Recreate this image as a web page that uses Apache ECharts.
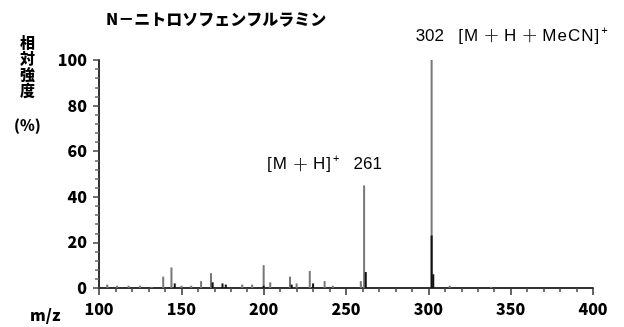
<!DOCTYPE html>
<html>
<head>
<meta charset="utf-8">
<script src="https://cdn.jsdelivr.net/npm/echarts@6/dist/echarts.min.js"></script>
<style>
  html, body { margin: 0; padding: 0; background: #fff; }
  #chart { width: 624px; height: 327px; }
</style>
</head>
<body>
<div id="chart"></div>
<script>
// Spectrum title and axis labels
const titleText = 'N－ニトロソフェンフルラミン';
const yAxisName = ['相', '対', '強', '度'];
const yUnit = '(%)';
const xAxisName = 'm/z';

// Axis ranges and ticks
const xTicks = [100, 150, 200, 250, 300, 350, 400];
const yTicks = [0, 20, 40, 60, 80, 100];

// Grey peak sticks (m/z, relative intensity %)
const greyMz = [105, 111, 118, 125, 132, 139, 144, 150, 156, 162, 168, 187, 193, 200, 204, 216, 220, 228, 237, 242, 259, 261, 302, 313, 338];
const greyInt = [1.5, 1, 1, 1, 0.5, 5, 9, 1, 1, 3, 6.5, 1.5, 1.5, 10, 2.5, 5, 2, 7.5, 3, 1, 3, 45, 100, 1, 0.5];

// Dark peak sticks (m/z, relative intensity %)
const darkMz = [146, 169, 175, 177, 200, 217, 230, 262, 302, 303];
const darkInt = [2, 2.5, 2, 1.5, 1, 1.5, 2, 7, 23, 6];

// Ion annotations
const ionBase = { mz: 302, intensity: 100, formula: '[M＋H＋MeCN]' };
const ionMH = { mz: 261, intensity: 45, formula: '[M＋H]' };

const chart = echarts.init(document.getElementById('chart'), null, { renderer: 'canvas' });

function stickItem(color, width) {
  return function (params, api) {
    const top = api.coord([api.value(0), api.value(1)]);
    const base = api.coord([api.value(0), 0]);
    return {
      type: 'line',
      shape: { x1: top[0], y1: top[1], x2: base[0], y2: base[1] },
      style: { stroke: color, lineWidth: width }
    };
  };
}

const boldFont = '"Noto Sans CJK JP", "DejaVu Sans", sans-serif';
const plainFont = '"Liberation Sans", Arial, sans-serif';

// rich text: Latin letters slightly spaced, full-width plus from the CJK face
const richStyles = {
  n: { font: '17px ' + plainFont, fill: '#000' },
  c: { font: '17px ' + plainFont, fill: '#000', padding: [0, 1, 0, 0] },
  p: { font: '300 17px "Noto Sans CJK JP"', fill: '#000', padding: [0, 4, 0, 4] },
  s: { font: '11px ' + plainFont, fill: '#000', verticalAlign: 'top', padding: [0, 0, 11, 1] }
};
function ionRich(formula) {
  return Array.from(formula)
    .map(ch => (ch === '＋' ? '{p|＋}' : '{c|' + ch + '}'))
    .join('') + '{s|+}';
}

const graphics = [
  {
    type: 'text', left: 106, top: 11,
    style: { text: titleText, font: '900 16px ' + boldFont, fill: '#000' }
  },
  {
    type: 'text', left: 20, top: 34,
    style: { text: yAxisName.join('\n'), font: '900 15px ' + boldFont, fill: '#000', lineHeight: 16 }
  },
  {
    type: 'text', left: 14, top: 118,
    style: { text: yUnit, font: '900 15px ' + boldFont, fill: '#000' }
  },
  {
    type: 'text', left: 30, top: 307,
    style: { text: xAxisName, font: '900 16px ' + boldFont, fill: '#000' }
  }
];

chart.setOption({
  animation: false,
  backgroundColor: '#fff',
  grid: { left: 99, right: 31, top: 60, bottom: 39 },
  xAxis: {
    type: 'value',
    min: xTicks[0], max: xTicks[xTicks.length - 1], interval: 50,
    axisLine: { onZero: false, lineStyle: { color: '#333', width: 2 } },
    axisTick: { inside: false, length: 7, lineStyle: { color: '#333', width: 1.5 } },
    minorTick: { show: true, splitNumber: 5, length: 4, lineStyle: { color: '#444', width: 1.5 } },
    splitLine: { show: false },
    axisLabel: { margin: 13, color: '#000', fontSize: 16, fontWeight: 900, fontFamily: boldFont }
  },
  yAxis: {
    type: 'value',
    min: yTicks[0], max: yTicks[yTicks.length - 1], interval: 20,
    axisLine: { show: true, lineStyle: { color: '#333', width: 2 } },
    axisTick: { show: true, length: 6, lineStyle: { color: '#444', width: 1.5 } },
    minorTick: { show: true, splitNumber: 5, length: 4, lineStyle: { color: '#666', width: 1.5 } },
    splitLine: { show: false },
    axisLabel: { margin: 12, color: '#000', fontSize: 16, fontWeight: 900, fontFamily: boldFont }
  },
  graphic: graphics,
  series: [
    {
      type: 'custom',
      renderItem: stickItem('#777', 2),
      data: greyMz.map((m, i) => [m, greyInt[i]]),
      encode: { x: 0, y: 1 },
      z: 2
    },
    {
      type: 'custom',
      renderItem: stickItem('#111', 2),
      data: darkMz.map((m, i) => [m, darkInt[i]]),
      encode: { x: 0, y: 1 },
      z: 3
    }
  ]
});

// Ion labels positioned from the peak coordinates
const pBase = chart.convertToPixel({ gridIndex: 0 }, [ionBase.mz, ionBase.intensity]);
const pMH = chart.convertToPixel({ gridIndex: 0 }, [ionMH.mz, ionMH.intensity]);
chart.setOption({
  graphic: graphics.concat([
    {
      type: 'text', left: pBase[0] - 16, top: pBase[1] - 35,
      style: { text: '{n|' + ionBase.mz + '   }' + ionRich(ionBase.formula), rich: richStyles }
    },
    {
      type: 'text', left: pMH[0] - 97, top: pMH[1] - 32,
      style: { text: ionRich(ionMH.formula) + '{n|   ' + ionMH.mz + '}', rich: richStyles }
    }
  ])
});
</script>
</body>
</html>
